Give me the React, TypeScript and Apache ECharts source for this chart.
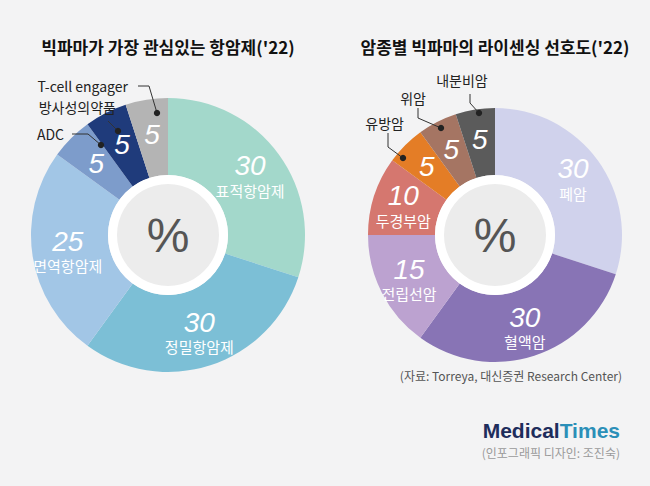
import React, { useEffect, useRef } from "react";
import * as echarts from "echarts";

const leftNames = ["표적항암제", "정밀항암제", "면역항암제", "ADC", "방사성의약품", "T-cell engager"];
const leftValues = [30, 30, 25, 5, 5, 5];
const leftColors = ["#a3d8cb", "#7cbfd6", "#a2c6e6", "#7d9ccb", "#1f3b7b", "#b4b4b4"];
const leftInside = [true, true, true, false, false, false];

const rightNames = ["폐암", "혈액암", "전립선암", "두경부암", "유방암", "위암", "내분비암"];
const rightValues = [30, 30, 15, 10, 5, 5, 5];
const rightColors = ["#d0d2ec", "#8874b5", "#bca2d0", "#d5776f", "#e47d26", "#a57563", "#5b5b5b"];
const rightInside = [true, true, true, true, false, false, false];

const FONT = "'Noto Sans CJK KR', 'Noto Sans', sans-serif";

function pieSeries(names: string[], values: number[], colors: string[], inside: boolean[], center: number[], r: number) {
  return {
    type: "pie",
    center,
    radius: [60, r],
    startAngle: 90,
    clockwise: true,
    silent: true,
    z: 1,
    data: names.map((n, i) => ({
      name: n,
      value: values[i],
      itemStyle: { color: colors[i] },
      label: {
        formatter: inside[i] ? "{v|{c}}\n{n|{b}}" : "{v|{c}}",
      },
    })),
    label: {
      show: true,
      position: "inside",
      rich: {
        v: { color: "#fff", fontSize: 28, fontStyle: "italic", fontFamily: "Liberation Sans, Arial", lineHeight: 30 },
        n: { color: "#fff", fontSize: 15, fontFamily: FONT, lineHeight: 19 },
      },
    },
    labelLine: { show: false },
  };
}

function centerGraphics(cx: number, cy: number) {
  return [
    { type: "circle", z: 100, shape: { cx, cy, r: 60 }, style: { fill: "#ffffff" } },
    { type: "circle", z: 101, shape: { cx, cy, r: 51 }, style: { fill: "#ececec" } },
    { type: "text", z: 102, x: cx, y: cy, style: { text: "%", fill: "#555", fontSize: 48, fontFamily: "Liberation Sans, Arial", textAlign: "center", textVerticalAlign: "middle" } },
  ];
}

function callout(text: string, tx: number, ty: number, pts: number[][], align = "right") {
  const out: any[] = [
    { type: "polyline", z: 100, shape: { points: pts }, style: { stroke: "#333", lineWidth: 1, fill: "none" } },
    { type: "circle", z: 101, shape: { cx: pts[pts.length - 1][0], cy: pts[pts.length - 1][1], r: 3.2 }, style: { fill: "#222" } },
  ];
  if (text) out.push({ type: "text", z: 100, x: tx, y: ty, style: { text, fill: "#222", fontSize: 14, fontFamily: FONT, textAlign: align, textVerticalAlign: "middle" } });
  return out;
}

export default function App() {
  const ref = useRef<HTMLDivElement>(null);
  useEffect(() => {
    const chart = echarts.init(ref.current!, null, { renderer: "svg" });
    chart.setOption({
      animation: false,
      backgroundColor: "#f3f3f4",
      series: [
        pieSeries(leftNames, leftValues, leftColors, leftInside, [168, 235], 137),
        pieSeries(rightNames, rightValues, rightColors, rightInside, [495, 235], 127),
      ],
      graphic: [
        { type: "text", x: 168, y: 46, style: { text: "빅파마가 가장 관심있는 항암제('22)", fill: "#111", fontSize: 17, fontWeight: "bold", fontFamily: FONT, textAlign: "center", textVerticalAlign: "middle" } },
        { type: "text", x: 495, y: 46, style: { text: "암종별 빅파마의 라이센싱 선호도('22)", fill: "#111", fontSize: 17, fontWeight: "bold", fontFamily: FONT, textAlign: "center", textVerticalAlign: "middle" } },
        ...centerGraphics(168, 235),
        ...centerGraphics(495, 235),
        ...callout("T-cell engager", 128, 86, [[138, 86], [149, 86], [157, 113]]),
        ...callout("방사성의약품", 116, 107, [[108, 121], [118, 131]]),
        ...callout("ADC", 64, 134, [[72, 134], [88, 134], [101, 145]]),
        ...callout("유방암", 404, 123, [[388, 133], [388, 147], [403, 158]], "right"),
        ...callout("위암", 426, 98, [[418, 108], [418, 118], [441, 128]], "right"),
        ...callout("내분비암", 462, 80, [[470, 94], [470, 103], [479, 113]], "center"),
        { type: "text", x: 622, y: 375, style: { text: "(자료: Torreya, 대신증권 Research Center)", fill: "#555", fontSize: 12, fontFamily: FONT, textAlign: "right", textVerticalAlign: "middle" } },
        { type: "text", x: 620, y: 430, style: { text: "{a|Medical}{b|Times}", rich: { a: { fill: "#1e2d5c", fontSize: 21, fontWeight: "bold", fontFamily: "Liberation Sans, Arial" }, b: { fill: "#2b8fb8", fontSize: 21, fontWeight: "bold", fontFamily: "Liberation Sans, Arial" } }, textAlign: "right", textVerticalAlign: "middle" } },
        { type: "text", x: 620, y: 452, style: { text: "(인포그래픽 디자인: 조진숙)", fill: "#9a9a9a", fontSize: 12, fontFamily: FONT, textAlign: "right", textVerticalAlign: "middle" } },
      ],
    });
    return () => chart.dispose();
  }, []);
  return <div ref={ref} style={{ position: "absolute", left: 0, top: 0, width: 650, height: 486 }} />;
}
